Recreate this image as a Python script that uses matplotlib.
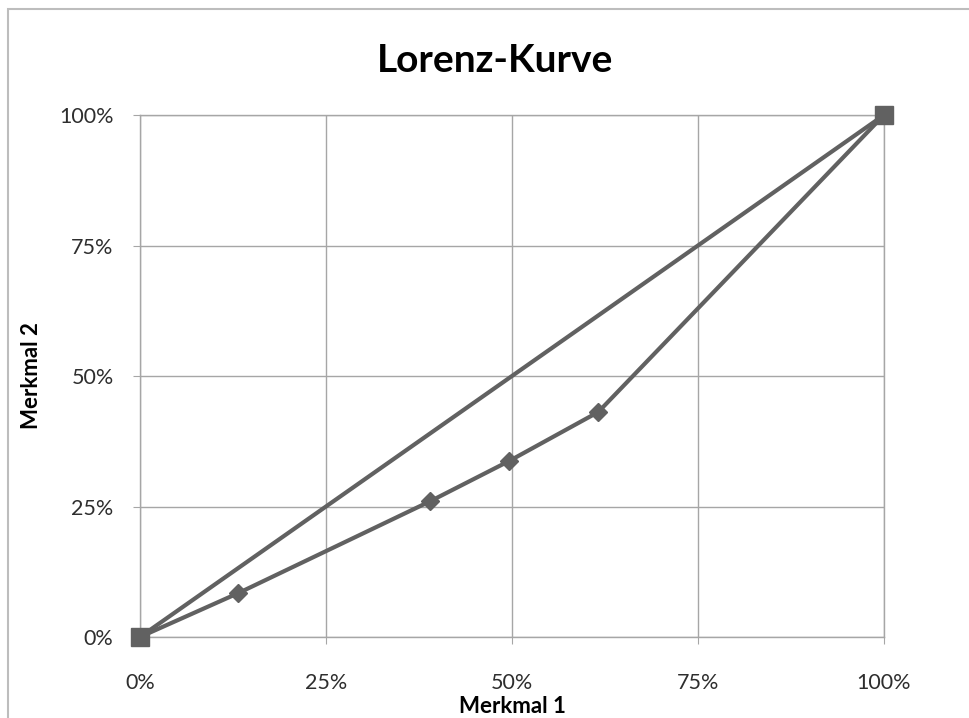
import matplotlib
matplotlib.use("Agg")
import matplotlib.pyplot as plt
from matplotlib.patches import Rectangle
from matplotlib.ticker import PercentFormatter

# cumulative shares (Merkmal 1 -> Merkmal 2)
lorenz_x = [0.0, 0.132, 0.39, 0.496, 0.616, 1.0]
lorenz_y = [0.0, 0.084, 0.26, 0.337, 0.431, 1.0]

# line of equal distribution
equal_x = [0.0, 1.0]
equal_y = [0.0, 1.0]

ticks = [0, 0.25, 0.5, 0.75, 1.0]

line_col = "#616161"
grid_col = "#a6a6a6"
text_col = "#2e2e2e"

plt.rcParams["font.family"] = ["Lato", "DejaVu Sans"]

fig = plt.figure(figsize=(9.7, 7.18), dpi=100)
ax = fig.add_axes([0.1443, 0.1128, 0.767, 0.727])

# outer chart frame
fig.patches.append(Rectangle((8 / 970, -0.05), 1.2, 1 - 9 / 718 + 0.05,
                             transform=fig.transFigure, fill=False,
                             edgecolor="#bdbdbd", linewidth=1.5))

ax.plot(lorenz_x[1:-1], lorenz_y[1:-1], color=line_col, lw=0, marker="D",
        markersize=9, zorder=4)
ax.plot(lorenz_x, lorenz_y, color=line_col, lw=3, zorder=3)
ax.plot(equal_x, equal_y, color=line_col, lw=3, marker="s",
        markersize=13, zorder=5)

ax.set_xlim(0, 1)
ax.set_ylim(0, 1)
ax.set_xticks(ticks)
ax.set_yticks(ticks)
ax.xaxis.set_major_formatter(PercentFormatter(1.0, decimals=0))
ax.yaxis.set_major_formatter(PercentFormatter(1.0, decimals=0))
ax.grid(True, color=grid_col, lw=1)
ax.set_axisbelow(True)
for s in ax.spines.values():
    s.set_color(grid_col)
    s.set_linewidth(1)
    s.set_zorder(0.5)
ax.tick_params(axis="both", direction="out", length=5, color=grid_col,
               labelsize=15.5, labelcolor=text_col)
ax.tick_params(axis="x", pad=21)
ax.tick_params(axis="y", pad=14)
for a in (ax.xaxis, ax.yaxis):
    for line in a.get_ticklines():
        line.set_clip_on(False)

fig.text(495 / 970, 1 - 60 / 718, "Lorenz-Kurve", fontsize=28,
         fontweight="bold", color="black", ha="center", va="center")
ax.set_xlabel("Merkmal 1", fontsize=16, fontweight="bold", color="black",
              labelpad=2)
ax.set_ylabel("Merkmal 2", fontsize=16, fontweight="bold", color="black",
              labelpad=12)

for a in ax.lines:
    a.set_clip_on(False)

fig.savefig("out.png", dpi=100)
